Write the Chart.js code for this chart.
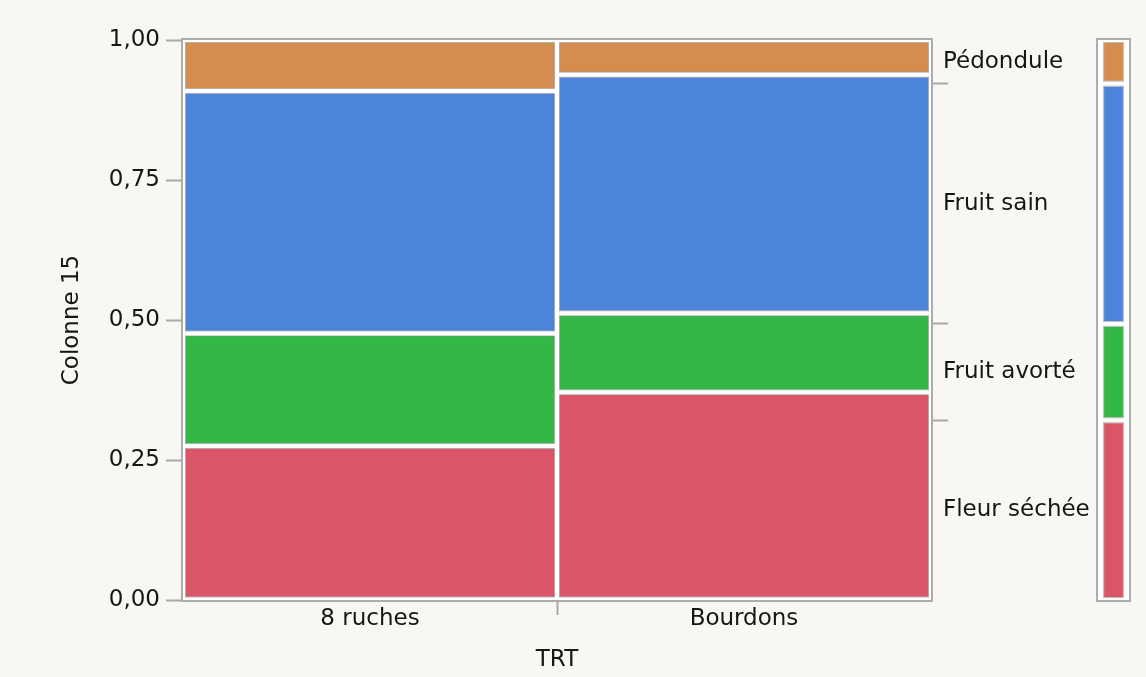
<!DOCTYPE html>
<html><head><meta charset="utf-8">
<script src="https://cdn.jsdelivr.net/npm/chart.js@4/dist/chart.umd.min.js"></script>
<style>
html,body{margin:0;padding:0;background:#f8f7f4;}
#wrap{position:relative;width:1146px;height:677px;overflow:hidden;}
#c1{position:absolute;left:0;top:0;}
#c2{position:absolute;left:1090px;top:0;}
</style></head><body>
<div id="wrap">
<canvas id="c1" width="1090" height="677"></canvas>
<canvas id="c2" width="56" height="677"></canvas>
</div>
<script>
// ---- data ----
const categories = ['8 ruches', 'Bourdons'];
const levels = ['Fleur séchée', 'Fruit avorté', 'Fruit sain', 'Pédondule'];
const fleurSechee = [0.275, 0.371];
const fruitAvorte = [0.201, 0.141];
const fruitSain   = [0.433, 0.426];
const pedondule   = [0.091, 0.062];
const marginal    = [0.321, 0.172, 0.429, 0.078]; // overall share, same order as levels
const yTicks = [0, 0.25, 0.5, 0.75, 1];
const xTitle = 'TRT';
const yTitle = 'Colonne 15';

const colors = ['#db5568', '#33b848', '#4c84da', '#d48c4f'];
const series = [fleurSechee, fruitAvorte, fruitSain, pedondule];
const textColor = '#161616';

Chart.defaults.font.family = 'DejaVu Sans';
Chart.defaults.font.size = 23;
Chart.defaults.color = textColor;

// cumulative boundaries and label midpoints of the marginal distribution
const bounds = [];
const mids = [];
let acc = 0;
marginal.forEach((m, i) => { mids.push(acc + m / 2); acc += m; if (i < marginal.length - 1) bounds.push(acc); });

const frame = {
  id: 'frame',
  beforeDraw(chart) {
    const {ctx, chartArea: a} = chart;
    ctx.save();
    ctx.fillStyle = '#ffffff';
    ctx.fillRect(a.left, a.top, a.right - a.left, a.bottom - a.top);
    ctx.restore();
  },
  afterDatasetsDraw(chart) {
    const {ctx, chartArea: a} = chart;
    ctx.save();
    ctx.strokeStyle = 'rgba(140,140,140,0.6)';
    ctx.lineWidth = 1;
    chart.data.datasets.forEach((ds, di) => {
      chart.getDatasetMeta(di).data.forEach(el => {
        const p = el.getProps(['x', 'y', 'base', 'width'], true);
        const l = p.x - p.width / 2;
        const t = Math.min(p.y, p.base);
        const h = Math.abs(p.base - p.y);
        ctx.strokeRect(l + 2.5, t + 2.5, p.width - 5, h - 5);
      });
    });
    ctx.strokeStyle = '#adadad';
    ctx.lineWidth = 2;
    ctx.strokeRect(a.left - 1, a.top - 1, a.right - a.left + 2, a.bottom - a.top + 2);
    ctx.restore();
  }
};

const mainDatasets = series.map((vals, i) => ({
  label: levels[i],
  data: vals,
  backgroundColor: colors[i],
  borderColor: '#ffffff',
  borderWidth: 3,
  borderSkipped: false,
  barPercentage: 1,
  categoryPercentage: 1
}));

new Chart(document.getElementById('c1'), {
  type: 'bar',
  data: { labels: categories, datasets: mainDatasets },
  plugins: [frame],
  options: {
    responsive: false,
    devicePixelRatio: 1,
    animation: false,
    layout: { padding: { top: 40, left: 0, right: 0, bottom: 0 } },
    plugins: { legend: { display: false }, tooltip: { enabled: false } },
    scales: {
      x: {
        stacked: true,
        grid: {
          offset: true, drawOnChartArea: false, tickLength: 15,
          tickColor: ctx => ctx.index === 1 ? '#a8a8a8' : 'rgba(0,0,0,0)', tickWidth: 2
        },
        border: { display: false },
        ticks: { padding: -10, color: textColor },
        title: { display: true, text: xTitle, color: textColor, padding: { top: 0, bottom: 3 } },
        afterFit: s => { s.height = 77; }
      },
      y: {
        stacked: true,
        min: 0, max: 1,
        afterBuildTicks: s => { s.ticks = yTicks.map(v => ({ value: v })); },
        ticks: { padding: 6, color: textColor, callback: v => Number(v).toFixed(2).replace('.', ',') },
        grid: { drawOnChartArea: false, tickLength: 17, tickColor: '#a8a8a8', tickWidth: 2 },
        border: { display: false },
        title: { display: true, text: yTitle, color: textColor, padding: { top: 58, bottom: 0 } },
        afterFit: s => { s.width = 183; }
      },
      yr: {
        position: 'right',
        min: 0, max: 1,
        afterBuildTicks: s => {
          const all = bounds.map(v => ({ value: v })).concat(mids.map(v => ({ value: v })));
          all.sort((p, q) => p.value - q.value);
          s.ticks = all;
        },
        ticks: {
          padding: -5, color: textColor, autoSkip: false,
          callback: v => { const k = mids.findIndex(m => Math.abs(m - v) < 1e-9); return k >= 0 ? levels[k] : ''; }
        },
        grid: {
          drawOnChartArea: false, tickLength: 17, tickWidth: 2,
          tickColor: ctx => (ctx.tick && bounds.some(b => Math.abs(b - ctx.tick.value) < 1e-9)) ? '#a8a8a8' : 'rgba(0,0,0,0)'
        },
        border: { display: false },
        afterFit: s => { s.width = 1090 - 931; }
      }
    }
  }
});

new Chart(document.getElementById('c2'), {
  type: 'bar',
  data: {
    labels: [''],
    datasets: marginal.map((m, i) => ({
      label: levels[i],
      data: [m],
      backgroundColor: colors[i],
      borderColor: '#ffffff',
      borderWidth: 3,
      borderSkipped: false,
      barPercentage: 0.8,
      categoryPercentage: 1
    }))
  },
  plugins: [frame],
  options: {
    responsive: false,
    devicePixelRatio: 1,
    animation: false,
    layout: { padding: { top: 40, left: 8, right: 17, bottom: 77 } },
    plugins: { legend: { display: false }, tooltip: { enabled: false } },
    scales: {
      x: { display: false, stacked: true },
      y: { display: false, stacked: true, min: 0, max: 1 }
    }
  }
});
</script>
</body></html>
